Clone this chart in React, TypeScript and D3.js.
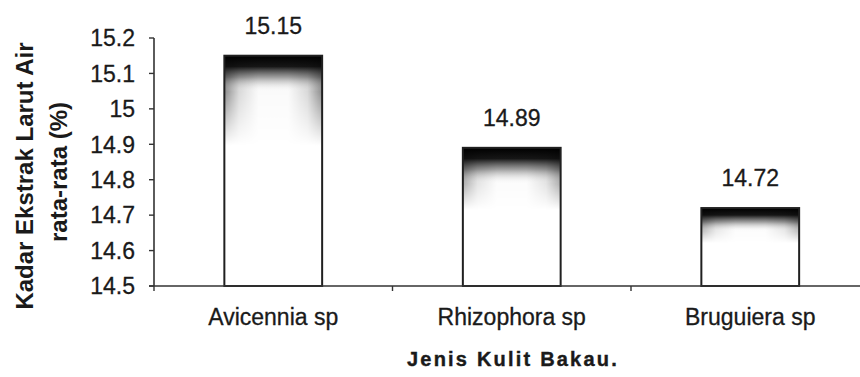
import React from "react";
import * as d3 from "d3";

const categories = ["Avicennia sp", "Rhizophora sp", "Bruguiera sp"];
const values = [15.15, 14.89, 14.72];
const valueLabels = ["15.15", "14.89", "14.72"];
const yTicks = [14.5, 14.6, 14.7, 14.8, 14.9, 15, 15.1, 15.2];
const yTickLabels = ["14.5", "14.6", "14.7", "14.8", "14.9", "15", "15.1", "15.2"];

const W = 860;
const H = 377;
const FONT = "'Liberation Sans', Arial, Helvetica, sans-serif";
const INK = "#1a1a1a";

export default function App() {
  const x = d3.scaleBand<string>().domain(categories).range([154, 869.5]).paddingInner(0.59).paddingOuter(0.295);
  const y = d3.scaleLinear().domain([14.5, 15.2]).range([286, 38]);
  const base = y(14.5);
  const step = x.step();
  const boundaries = d3.range(categories.length + 1).map((i) => 154 + i * step);

  return (
    <svg width={W} height={H} style={{ display: "block", position: "absolute", left: 0, top: 0, background: "#fff" }}>
      <defs>
        {values.map((v, i) => {
          const top = y(v);
          const h = base - top;
          const fade = Math.min(36, h * 0.3);
          return (
            <React.Fragment key={i}>
              <linearGradient id={`vfade${i}`} gradientUnits="userSpaceOnUse" x1={0} y1={top} x2={0} y2={top + fade}>
                <stop offset="0" stopColor="#000" stopOpacity={1} />
                <stop offset="0.3" stopColor="#0a0a0a" stopOpacity={0.95} />
                <stop offset="0.6" stopColor="#444" stopOpacity={0.5} />
                <stop offset="1" stopColor="#fff" stopOpacity={0} />
              </linearGradient>
              <linearGradient id={`sfade${i}`} gradientUnits="userSpaceOnUse" x1={0} y1={top} x2={0} y2={top + Math.min(90, h * 0.45)}>
                <stop offset="0" stopColor="#fff" stopOpacity={1} />
                <stop offset="1" stopColor="#fff" stopOpacity={0} />
              </linearGradient>
              <mask id={`smask${i}`}>
                <rect x={x(categories[i])} y={top} width={x.bandwidth()} height={h} fill={`url(#sfade${i})`} />
              </mask>
            </React.Fragment>
          );
        })}
        <linearGradient id="hsides" x1="0" y1="0" x2="1" y2="0">
          <stop offset="0" stopColor="#000" stopOpacity={0.75} />
          <stop offset="0.15" stopColor="#000" stopOpacity={0.25} />
          <stop offset="0.35" stopColor="#000" stopOpacity={0.03} />
          <stop offset="0.65" stopColor="#000" stopOpacity={0.03} />
          <stop offset="0.85" stopColor="#000" stopOpacity={0.25} />
          <stop offset="1" stopColor="#000" stopOpacity={0.75} />
        </linearGradient>
      </defs>

      {/* bars */}
      {values.map((v, i) => {
        const bx = x(categories[i]) as number;
        const bw = x.bandwidth();
        const top = y(v);
        const h = base - top;
        return (
          <g key={categories[i]}>
            <rect x={bx} y={top} width={bw} height={h} fill="#fff" />
            <rect x={bx} y={top} width={bw} height={h} fill="url(#hsides)" mask={`url(#smask${i})`} />
            <rect x={bx} y={top} width={bw} height={Math.min(36, h * 0.3)} fill={`url(#vfade${i})`} />
            <rect x={bx} y={top} width={bw} height={h} fill="none" stroke="#202020" strokeWidth={2} />
            <text x={bx + bw / 2} y={top - 22} textAnchor="middle" fontFamily={FONT} fontSize={23} fill={INK} stroke={INK} strokeWidth={0.3}>
              {valueLabels[i]}
            </text>
          </g>
        );
      })}

      {/* y axis */}
      <line x1={154} x2={154} y1={y(15.2)} y2={base} stroke="#333" strokeWidth={1.6} />
      {yTicks.map((t, i) => (
        <g key={t}>
          <line x1={149} x2={154} y1={y(t)} y2={y(t)} stroke="#333" strokeWidth={1.4} />
          <text x={135} y={y(t)} dy="0.36em" textAnchor="end" fontFamily={FONT} fontSize={23} fill={INK} stroke={INK} strokeWidth={0.3}>
            {yTickLabels[i]}
          </text>
        </g>
      ))}

      {/* x axis */}
      <line x1={149} x2={W} y1={base} y2={base} stroke="#333" strokeWidth={1.6} />
      {boundaries.map((bx, i) => (
        <line key={i} x1={bx} x2={bx} y1={base} y2={base + 5} stroke="#333" strokeWidth={1.4} />
      ))}
      {categories.map((c) => (
        <text key={c} x={(x(c) as number) + x.bandwidth() / 2} y={325} textAnchor="middle" fontFamily={FONT} fontSize={23} fill={INK} stroke={INK} strokeWidth={0.3}>
          {c}
        </text>
      ))}

      {/* axis titles */}
      <text x={513} y={366} textAnchor="middle" fontFamily={FONT} fontSize={20} fontWeight="bold" letterSpacing={2.2} fill={INK} stroke={INK} strokeWidth={0.4}>
        Jenis Kulit Bakau.
      </text>
      <g fontFamily={FONT} fontSize={24} fontWeight="bold" fill={INK} textAnchor="middle">
        <text transform="translate(33,176) rotate(-90)">Kadar Ekstrak Larut Air</text>
        <text transform="translate(67,172) rotate(-90)">rata-rata (%)</text>
      </g>
    </svg>
  );
}
